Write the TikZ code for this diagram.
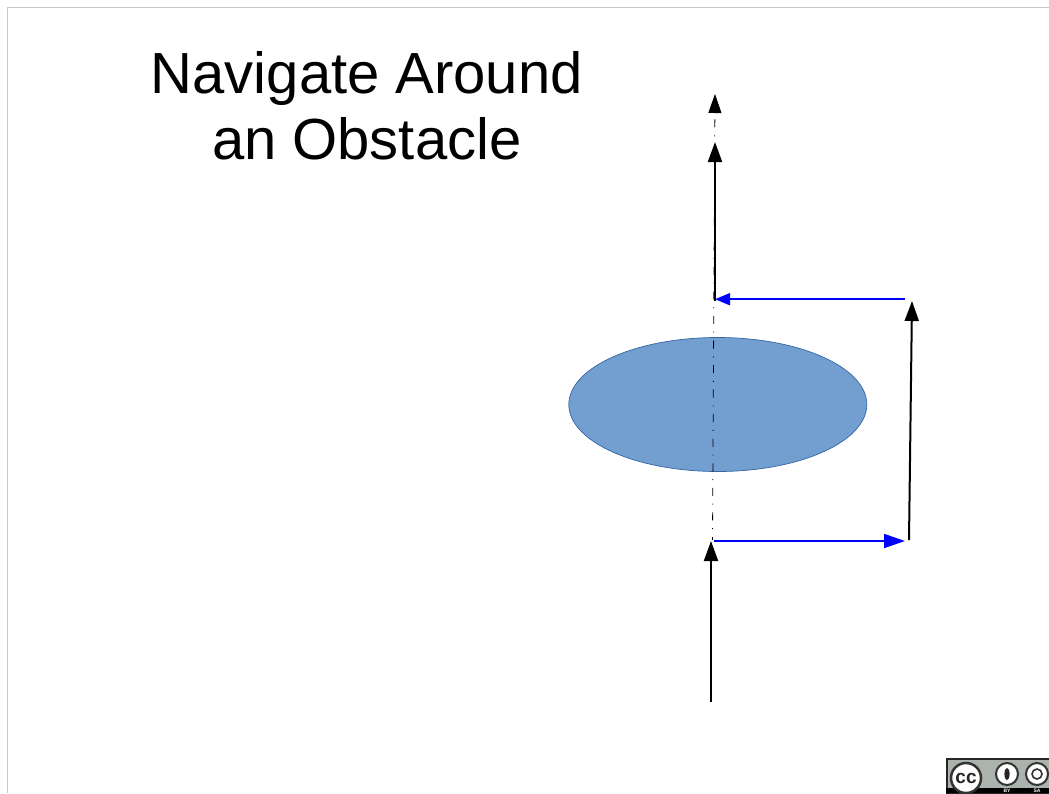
\documentclass[tikz,border=0pt]{standalone}
\usepackage{fontspec}
\setmainfont{Liberation Sans}
\usetikzlibrary{arrows.meta,shapes.geometric}
\definecolor{figframe}{HTML}{C8C8C8}
\definecolor{figfill}{HTML}{729FCF}
\definecolor{figline}{HTML}{3465A4}
\definecolor{figblue}{HTML}{0000FF}
\definecolor{figbadge}{HTML}{ABB3AC}
\begin{document}
\begin{tikzpicture}[
  x=1pt, y=-1pt,
  title/.style={font=\fontsize{58}{66}\selectfont, align=center, text=black, inner sep=0pt},
  obstacle/.style={draw=figline, line width=0.7pt, fill=figfill, ellipse, inner sep=0pt,
                   minimum width=298pt, minimum height=134pt},
  axis/.style={-{Triangle[length=19pt, width=13pt]}, draw=black, line width=0.8pt,
               dash pattern=on 8pt off 7.8pt on 1pt off 7.76pt, dash phase=5pt},
  move/.style={-{Triangle[length=20pt, width=14pt]}, draw=black, line width=2pt},
  turn/.style={-{Triangle[length=21pt, width=14pt]}, draw=figblue, line width=1.8pt},
  turnback/.style={{Triangle[length=15pt, width=12pt]}-, draw=figblue, line width=1.8pt},
  ccring/.style={circle, draw=black!80, line width=2pt, fill=white, inner sep=0pt, text=black!85},
  tag/.style={font=\bfseries\fontsize{5}{5}\selectfont, text=white, inner sep=0pt},
]
\useasboundingbox (0,0) rectangle (1049,793);
\draw[figframe, line width=1pt] (7.5,793) -- (7.5,7.5) -- (1049,7.5);
\node[title] (title) at (366.8,106) {Navigate Around\\an Obstacle};
\node[obstacle] (obst) at (717.8,404.5) {};
% path points
\coordinate (start) at (711,702);
\coordinate (p1) at (711,541);
\coordinate (p2) at (714,541);
\coordinate (p3) at (905,541);
\coordinate (p4) at (909,540);
\coordinate (p5) at (912,301);
\coordinate (p6) at (905,299.2);
\coordinate (p7) at (715,299.2);
\coordinate (p8) at (715,301);
\coordinate (p9) at (715,142);
\coordinate (axisa) at (712.5,540);
\coordinate (axisb) at (715,94);
\draw[axis] (axisa) -- (axisb);
\draw[move] (start) -- (p1);
\draw[turn] (p2) -- (p3);
\draw[move] (p4) -- (p5);
\draw[move] (p8) -- (p9);
\draw[turnback] (p7) -- (p6);
% licence badge, cut off by the page edge
\begin{scope}
\clip (0,0) rectangle (1049,793);
\draw[fill=figbadge, draw=black!85, line width=2pt] (946.5,793) -- (946.5,759) -- (1055,759) -- (1055,793) -- cycle;
\fill[black] (946,787.5) rectangle (1049,793);
\node[ccring, minimum size=30pt, font=\bfseries\fontsize{19}{19}\selectfont, line width=2.5pt] (cc) at (966,778) {cc};
\node[ccring, minimum size=22pt] (by) at (1007,774) {};
\fill[black!85] (by.center) ellipse (2.6pt and 6pt);
\node[ccring, minimum size=22pt] (sa) at (1037,774) {};
\draw[black!80, line width=1.6pt] (sa.center) circle (5pt);
\node[tag] (bytag) at (1007,790.5) {BY};
\node[tag] (satag) at (1037,790.5) {SA};
\end{scope}
\end{tikzpicture}
\end{document}
